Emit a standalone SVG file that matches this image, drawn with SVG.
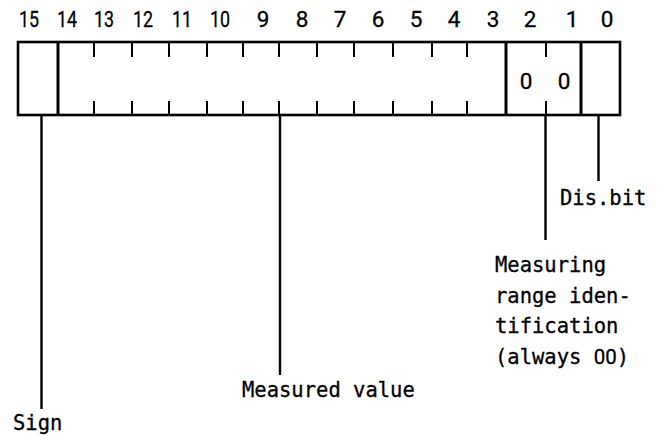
<svg xmlns="http://www.w3.org/2000/svg" width="661" height="436" viewBox="0 0 661 436">
<style>
.t{font-family:"DejaVu Sans Mono","Liberation Mono",monospace;font-size:20.5px;fill:#000;stroke:#000;stroke-width:0.3}
.z{font-family:Roboto,"Liberation Sans",sans-serif}
.n{font-family:Roboto,"Liberation Sans",sans-serif;font-size:22.5px;fill:#000;stroke:#000;stroke-width:0.3;text-anchor:middle}
.b{stroke:#000;stroke-width:2.6;fill:none}
.d{stroke:#000;stroke-width:3;fill:none}
.k{stroke:#000;stroke-width:2;fill:none}
.c{stroke:#000;stroke-width:2.4;fill:none}
</style>
<rect width="661" height="436" fill="#fff"/>
<g id="bit-numbers">
<text class="n" x="29" y="27" textLength="20" lengthAdjust="spacingAndGlyphs">15</text>
<text class="n" x="67" y="27" textLength="20" lengthAdjust="spacingAndGlyphs">14</text>
<text class="n" x="104" y="27" textLength="20" lengthAdjust="spacingAndGlyphs">13</text>
<text class="n" x="143" y="27" textLength="20" lengthAdjust="spacingAndGlyphs">12</text>
<text class="n" x="182" y="27" textLength="20" lengthAdjust="spacingAndGlyphs">11</text>
<text class="n" x="220" y="27" textLength="20" lengthAdjust="spacingAndGlyphs">10</text>
<text class="n" x="263" y="27">9</text>
<text class="n" x="302" y="27">8</text>
<text class="n" x="340" y="27">7</text>
<text class="n" x="378" y="27">6</text>
<text class="n" x="416" y="27">5</text>
<text class="n" x="454" y="27">4</text>
<text class="n" x="493" y="27">3</text>
<text class="n" x="530" y="27">2</text>
<text class="n" x="572" y="27">1</text>
<text class="n" x="607" y="27">0</text>
</g>
<g id="register">
<rect class="b" x="18" y="42" width="602" height="73"/>
<line class="d" x1="58" y1="42" x2="58" y2="115"/>
<line class="d" x1="506" y1="42" x2="506" y2="115"/>
<line class="d" x1="581" y1="42" x2="581" y2="115"/>
<path class="k" d="M94 42v15M132 42v15M169 42v15M207 42v15M243 42v15M279 42v15M317 42v15M354 42v15M393 42v15M432 42v15M467 42v15M546 42v15M94 101v14M132 101v14M169 101v14M207 101v14M243 101v14M279 101v14M317 101v14M354 101v14M393 101v14M432 101v14M467 101v14M546 101v14"/>
<text class="n" x="526" y="89">0</text>
<text class="n" x="564" y="89">0</text>
</g>
<g id="connectors">
<line class="c" x1="41.5" y1="115" x2="41.5" y2="409"/>
<line class="c" x1="280" y1="115" x2="280" y2="375"/>
<line class="c" x1="545.5" y1="115" x2="545.5" y2="240"/>
<line class="c" x1="598.5" y1="115" x2="598.5" y2="181"/>
</g>
<g id="sign"><text class="t" x="13" y="430">Sign</text></g>
<g id="measured-value"><text class="t" x="242" y="397">Measured value</text></g>
<g id="dis-bit"><text class="t" x="560" y="205">Dis.bit</text></g>
<g id="range-id">
<text class="t" x="495" y="272">Measuring</text>
<text class="t" x="495" y="302.5">range iden-</text>
<text class="t" x="495" y="333">tification</text>
<text class="t" x="495" y="363.5">(always <tspan class="z">00</tspan>)</text>
</g>
</svg>
